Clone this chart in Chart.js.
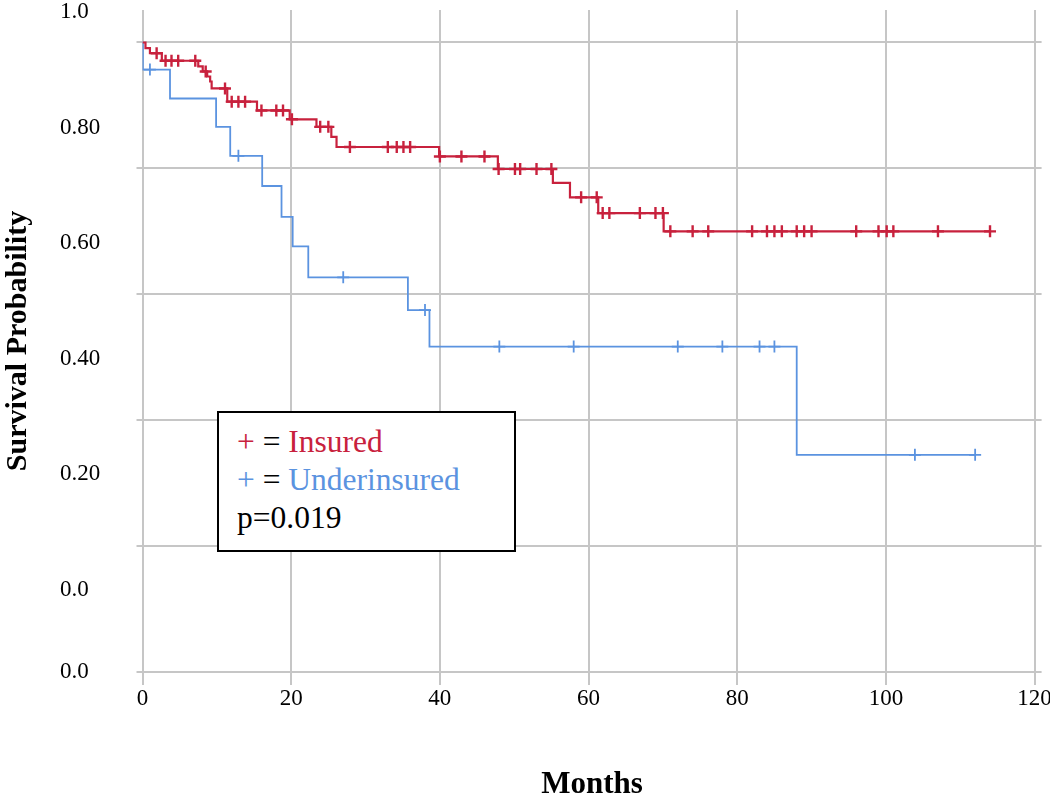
<!DOCTYPE html>
<html>
<head>
<meta charset="utf-8">
<title>Survival by insurance status</title>
<script src="https://cdn.jsdelivr.net/npm/chart.js@4.4.1/dist/chart.umd.min.js"></script>
<style>
    body { margin: 0; background: #fff; }
    .wrap { position: relative; width: 1050px; height: 800px; }
    .kmlegend {
        position: absolute; left: 217px; top: 411px;
        width: 299px; height: 141px; box-sizing: border-box;
        border: 2px solid #000; background: #fff;
        padding: 10px 0 0 18px;
        font-family: 'Liberation Serif', 'Times New Roman', serif;
        font-size: 31.5px; line-height: 38px; color: #000;
    }
    .kmlegend .ins { color: #c8213d; }
    .kmlegend .und { color: #5b93e0; }
</style>
</head>
<body>
<div class="wrap">
    <canvas id="kmChart" width="1050" height="800"></canvas>
    <div class="kmlegend">
        <div><span class="ins">+</span> = <span class="ins">Insured</span></div>
        <div><span class="und">+</span> = <span class="und">Underinsured</span></div>
        <div>p=0.019</div>
    </div>
</div>
<script>
// insured group: step times (months) and survival after each step
var insuredEventMonths = [0, 0.4, 1.0, 2.6, 7.5, 8.1, 8.7, 9.1, 9.3, 11.4, 15.4, 19.8, 23.4, 25.4, 26.1, 39.9, 47.8, 55.2, 57.5, 61.3, 70.1];
var insuredSurvival = [1.0, 0.991, 0.983, 0.971, 0.962, 0.954, 0.946, 0.938, 0.927, 0.906, 0.892, 0.878, 0.866, 0.850, 0.834, 0.819, 0.799, 0.777, 0.754, 0.729, 0.700];
var insuredCensored = [1.9, 3.1, 3.9, 4.8, 7.1, 8.5, 11.1, 12.0, 12.9, 13.8, 16.0, 18.0, 18.9, 20.1, 23.9, 25.0, 27.9, 33.0, 34.2, 35.1, 36.0,
    40.0, 42.9, 46.0, 47.9, 50.1, 50.8, 53.0, 55.0, 59.0, 61.1, 61.9, 62.8, 66.9, 69.0, 70.0, 71.0, 74.0, 76.1, 82.0, 84.0, 85.0,
    86.0, 88.0, 89.0, 90.0, 96.0, 99.0, 100.1, 101.0, 107.0, 114.0];

// underinsured group
var underEventMonths = [0, 0.05, 3.7, 9.9, 11.8, 16.1, 18.7, 20.2, 22.3, 35.7, 38.6, 88.0];
var underSurvival = [1.0, 0.957, 0.911, 0.866, 0.820, 0.772, 0.723, 0.676, 0.627, 0.575, 0.517, 0.345];
var underCensored = [1.0, 12.9, 27.0, 38.0, 48.0, 58.0, 72.0, 78.0, 83.0, 85.0, 103.9, 112.0];

// axes
var xTicks = [0, 20, 40, 60, 80, 100, 120];
var yGridValues = [0, 0.2, 0.4, 0.6, 0.8, 1.0];
var yTickLabels = ['1.0', '0.80', '0.60', '0.40', '0.20', '0.0', '0.0'];
var yLabelAt = [1.049, 0.865, 0.682, 0.498, 0.314, 0.130, 0];

var redColor = '#c8213d';
var blueColor = '#5b93e0';
var gridColor = '#c6c6c6';
var serif = "'Liberation Serif', 'Times New Roman', serif";

function survivalAt(times, surv, t) {
    var s = surv[0];
    for (var i = 0; i < times.length; i++) {
        if (times[i] <= t) s = surv[i];
    }
    return s;
}

function stepPoints(times, surv, censored) {
    var pts = times.map(function (t, i) { return { x: t, y: surv[i] }; });
    var last = censored[censored.length - 1];
    pts.push({ x: last, y: survivalAt(times, surv, last) });
    return pts;
}

function censorPoints(times, surv, censored) {
    return censored.map(function (t) { return { x: t, y: survivalAt(times, surv, t) }; });
}

var yMax = 1.0516;
var xMax = 120.94;

var ctx = document.getElementById('kmChart').getContext('2d');
var kmChart = new Chart(ctx, {
    type: 'line',
    data: {
        datasets: [{
            label: 'Insured',
            data: stepPoints(insuredEventMonths, insuredSurvival, insuredCensored),
            stepped: true,
            borderColor: redColor,
            borderWidth: 2.2,
            pointRadius: 0,
            fill: false
        }, {
            label: 'Insured censored',
            data: censorPoints(insuredEventMonths, insuredSurvival, insuredCensored),
            showLine: false,
            pointStyle: 'cross',
            pointRadius: 6,
            borderColor: redColor,
            borderWidth: 2.4
        }, {
            label: 'Underinsured',
            data: stepPoints(underEventMonths, underSurvival, underCensored),
            stepped: true,
            borderColor: blueColor,
            borderWidth: 1.8,
            pointRadius: 0,
            fill: false
        }, {
            label: 'Underinsured censored',
            data: censorPoints(underEventMonths, underSurvival, underCensored),
            showLine: false,
            pointStyle: 'cross',
            pointRadius: 6,
            borderColor: blueColor,
            borderWidth: 1.8
        }]
    },
    options: {
        responsive: false,
        animation: false,
        layout: { padding: { top: 10, right: 8, bottom: 0, left: 0 } },
        plugins: {
            legend: { display: false },
            tooltip: { enabled: false }
        },
        scales: {
            x: {
                type: 'linear',
                position: 'bottom',
                min: 0,
                max: xMax,
                afterBuildTicks: function (s) { s.ticks = xTicks.map(function (v) { return { value: v }; }); },
                afterFit: function (s) { s.height = 128; s.paddingLeft = 0; s.paddingRight = 0; },
                grid: { color: gridColor, lineWidth: 2, tickLength: 13 },
                border: { display: false },
                ticks: { color: '#000', font: { family: serif, size: 23 }, padding: 0, maxRotation: 0 },
                title: {
                    display: true, text: 'Months', color: '#000', padding: 0,
                    font: { family: serif, size: 31, weight: 'bold', lineHeight: 1 }
                }
            },
            y: {
                type: 'linear',
                position: 'left',
                weight: 0,
                min: 0,
                max: yMax,
                afterBuildTicks: function (s) { s.ticks = yGridValues.map(function (v) { return { value: v }; }); },
                afterFit: function (s) { s.width = 6; s.paddingTop = 0; s.paddingBottom = 0; },
                grid: { color: gridColor, lineWidth: 2, tickLength: 6 },
                border: { display: false },
                ticks: { display: false }
            },
            yLab: {
                type: 'linear',
                position: 'left',
                weight: 1,
                min: 0,
                max: yMax,
                afterBuildTicks: function (s) { s.ticks = yLabelAt.map(function (v) { return { value: v }; }); },
                afterFit: function (s) { s.width = 76.5; s.paddingTop = 0; s.paddingBottom = 0; },
                grid: { display: false },
                border: { display: false },
                ticks: {
                    crossAlign: 'far',
                    color: '#000',
                    font: { family: serif, size: 23 },
                    callback: function (value, index) { return yTickLabels[index]; }
                }
            },
            yTitle: {
                type: 'linear',
                position: 'left',
                weight: 2,
                min: 0,
                max: yMax,
                afterFit: function (s) { s.width = 60; s.paddingTop = 0; s.paddingBottom = 0; },
                grid: { display: false },
                border: { display: false },
                ticks: { display: false },
                title: {
                    display: true, text: 'Survival Probability', color: '#000', padding: 0,
                    font: { family: serif, size: 30, weight: 'bold' }
                }
            }
        }
    }
});
</script>
</body>
</html>
